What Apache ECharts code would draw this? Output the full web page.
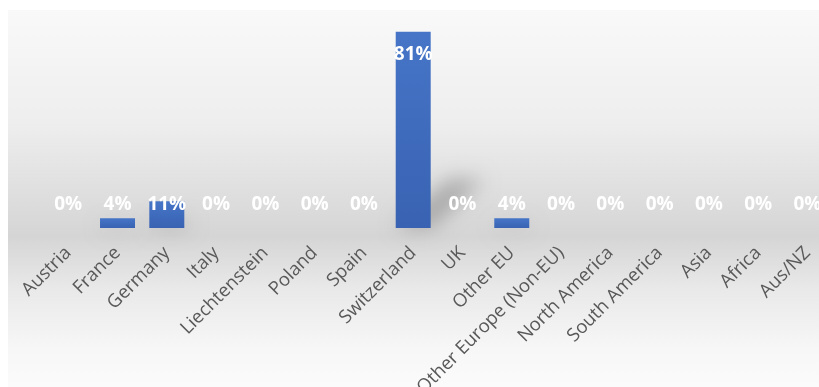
<!DOCTYPE html>
<html>
<head>
<meta charset="utf-8">
<script src="https://cdn.jsdelivr.net/npm/echarts@6/dist/echarts.min.js"></script>
<style>
  html, body { margin: 0; padding: 0; background: #ffffff; }
  #chart { width: 819px; height: 387px; }
</style>
</head>
<body>
<div id="chart"></div>
<script>
// Share of respondents by country / region (percent)
const categories = [
  'Austria', 'France', 'Germany', 'Italy', 'Liechtenstein', 'Poland', 'Spain',
  'Switzerland', 'UK', 'Other EU', 'Other Europe (Non-EU)', 'North America',
  'South America', 'Asia', 'Africa', 'Aus/NZ'
];
const shares = [0, 4, 11, 0, 0, 0, 0, 81, 0, 4, 0, 0, 0, 0, 0, 0];

const BAR_RATIO = 0.71;

const chart = echarts.init(document.getElementById('chart'), null, { renderer: 'canvas' });

const barData = shares.map(function (v) {
  const big = v > 50;
  return {
    value: v,
    label: big
      ? { position: 'insideTop', distance: 13 }
      : { position: 'insideBottom', distance: 14 }
  };
});

// Perspective "floor" shadow cast up and to the right of each bar.
// The polygon itself is drawn far off-canvas; only its blurred shadow lands in view.
function renderShadow(params, api) {
  const v = api.value(1);
  if (!v) return null;
  const base = api.coord([api.value(0), 0]);
  const top = api.coord([api.value(0), v]);
  const h = base[1] - top[1];
  const w = api.size([1, 0])[0] * BAR_RATIO;
  const xl = base[0] - w / 2;
  const xr = base[0] + w / 2;
  const dx = 0.27 * h;
  const dy = 0.25 * h;
  const OFF = 3000;
  return {
    type: 'polygon',
    shape: {
      points: [
        [xl + OFF, base[1]],
        [xr + OFF, base[1]],
        [xr + dx + OFF, base[1] - dy],
        [xl + dx + OFF, base[1] - dy]
      ]
    },
    style: {
      fill: '#000',
      shadowBlur: 20,
      shadowColor: 'rgba(0,0,0,0.24)',
      shadowOffsetX: -OFF
    },
    silent: true
  };
}

chart.setOption({
  animation: false,
  backgroundColor: '#ffffff',
  graphic: [{
    type: 'rect',
    z: -10,
    silent: true,
    shape: { x: 8, y: 10, width: 811, height: 377 },
    style: {
      fill: new echarts.graphic.LinearGradient(0, 0, 0, 1, [
        { offset: 0, color: '#f9f9f9' },
        { offset: 0.3, color: '#eeeeee' },
        { offset: 0.6, color: '#d5d5d5' },
        { offset: 0.74, color: '#e9e9e9' },
        { offset: 0.9, color: '#f7f7f7' },
        { offset: 1, color: '#fbfbfb' }
      ])
    }
  }],
  grid: {
    left: 43.6, top: 10, width: 788.5, height: 218,
    containLabel: false, outerBoundsMode: 'none'
  },
  xAxis: {
    type: 'category',
    data: categories,
    axisLine: { show: false },
    axisTick: { show: false },
    axisLabel: {
      rotate: 45,
      interval: 0,
      margin: 22,
      color: '#595959',
      fontFamily: 'Open Sans',
      fontSize: 18.5
    }
  },
  yAxis: {
    type: 'value',
    min: 0,
    max: 90,
    show: false,
    splitLine: { show: false }
  },
  series: [{
    type: 'custom',
    z: 1,
    clip: false,
    renderItem: renderShadow,
    data: shares.map(function (v, i) { return [i, v]; }),
    tooltip: { show: false }
  }, {
    type: 'bar',
    z: 2,
    data: barData,
    barCategoryGap: '29%',
    itemStyle: {
      color: new echarts.graphic.LinearGradient(0, 0, 0, 1, [
        { offset: 0, color: '#4675c7' },
        { offset: 1, color: '#3962b2' }
      ])
    },
    label: {
      show: true,
      formatter: '{c}%',
      color: '#ffffff',
      fontFamily: 'Open Sans',
      fontWeight: 'bold',
      fontSize: 19
    }
  }]
});
</script>
</body>
</html>
